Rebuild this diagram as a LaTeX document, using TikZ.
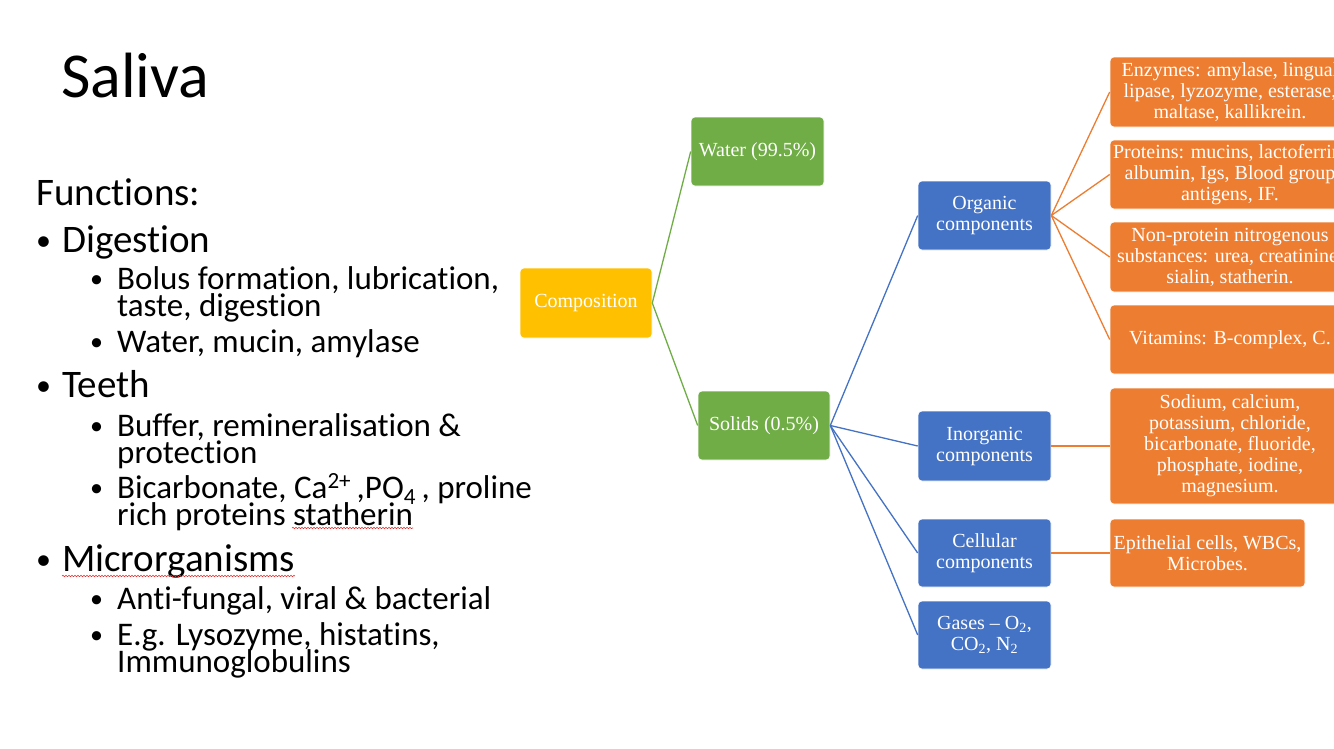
\documentclass[tikz,border=0pt]{standalone}
\usepackage{fontspec}
\setmainfont{Carlito}[Ligatures={NoCommon,NoRequired,NoContextual}]
\newfontfamily\boxfont{Liberation Serif}
\usetikzlibrary{decorations.pathmorphing}
\definecolor{cyellow}{HTML}{FFC000}
\definecolor{cgreen}{HTML}{70AD47}
\definecolor{cblue}{HTML}{4472C4}
\definecolor{corange}{HTML}{ED7D31}
\definecolor{spell}{HTML}{E03030}
\tikzset{
  txt/.style={anchor=base west, inner sep=0pt, text=black},
  big/.style={txt, font=\fontsize{39}{47}\selectfont},
  small/.style={txt, font=\fontsize{33}{40}\selectfont},
  bigdot/.style={txt, font=\fontsize{30}{36}\selectfont},
  smalldot/.style={txt, font=\fontsize{26}{31}\selectfont},
  sbox/.style={rectangle, rounded corners=4pt, draw=white, line width=0.6pt,
     text=white, align=center, inner sep=1pt,
     font=\boxfont\fontsize{20}{21}\selectfont},
  ybox/.style={sbox, fill=cyellow},
  gbox/.style={sbox, fill=cgreen},
  bbox/.style={sbox, fill=cblue},
  obox/.style={sbox, fill=corange},
  gline/.style={draw=cgreen, line width=1.3pt},
  bline/.style={draw=cblue, line width=1.3pt},
  oline/.style={draw=corange, line width=1.3pt},
  wavy/.style={draw=spell, line width=0.6pt, decorate,
     decoration={snake, amplitude=0.7pt, segment length=3pt}}
}
\begin{document}
\begin{tikzpicture}[x=1pt,y=-1pt]
\useasboundingbox (0,0) rectangle (1334,748);
\clip (0,0) rectangle (1334,748);
\fill[white] (0,0) rectangle (1334,748);

% Title
\node[txt, font=\fontsize{64}{77}\selectfont] (title) at (61,97) {Saliva};

% Left text
\node[big] (fun) at (36,205) {Functions:};
\node[bigdot] (b1) at (36,250) {•};
\node[big] (dig) at (62,252) {Digestion};
\node[smalldot] (s1b) at (90,287) {•};
\node[small] (s1) at (117,289) {Bolus formation, lubrication,};
\node[small] (s1c) at (117,316) {taste, digestion};
\node[smalldot] (s2b) at (90,350) {•};
\node[small] (s2) at (117,352) {Water, mucin, amylase};
\node[bigdot] (b2) at (36,395) {•};
\node[big] (tee) at (62,397) {Teeth};
\node[smalldot] (s3b) at (90,434) {•};
\node[small] (s3) at (117,436) {Buffer, remineralisation \&};
\node[small] (s3c) at (117,463) {protection};
\node[smalldot] (s4b) at (90,496) {•};
\node[small] (s4) at (117,498) {Bicarbonate, Ca\textsuperscript{2+}\,,PO\textsubscript{4}\,, proline};
\node[small] (s4c) at (117,525) {rich proteins statherin};
\node[bigdot] (b3) at (36,569) {•};
\node[big] (mic) at (62,571) {Microrganisms};
\node[smalldot] (s5b) at (90,607) {•};
\node[small] (s5) at (117,609) {Anti-fungal, viral \& bacterial};
\node[smalldot] (s6b) at (90,643) {•};
\node[small] (s6) at (117,645) {E.g. Lysozyme, histatins,};
\node[small] (s6c) at (117,672) {Immunoglobulins};

% spell-check underlines
\coordinate (w1a) at (292,528);
\coordinate (w1b) at (413,528);
\coordinate (w2a) at (62,576);
\coordinate (w2b) at (295,576);
\path[wavy] (w1a) -- (w1b);
\path[wavy] (w2a) -- (w2b);

% Diagram boxes
\node[ybox, minimum width=132pt, minimum height=70pt] (comp) at (586,303) {Composition};
\node[gbox, minimum width=133pt, minimum height=69pt] (water) at (757.5,151.5) {Water (99.5\%)};
\node[gbox, minimum width=132pt, minimum height=69pt] (solids) at (764,425.5) {Solids (0.5\%)};

\node[bbox, minimum width=133pt, minimum height=69pt] (org) at (984.5,215.5) {Organic\\components};
\node[bbox, minimum width=133pt, minimum height=70pt] (inorg) at (984.5,446) {Inorganic\\components};
\node[bbox, minimum width=133pt, minimum height=68pt] (cell) at (984.5,553) {Cellular\\components};
\node[bbox, minimum width=133pt, minimum height=68pt] (gas) at (984.5,635) {Gases – O\textsubscript{2},\\CO\textsubscript{2}, N\textsubscript{2}};

\node[obox, minimum width=240pt, minimum height=70pt] (enz) at (1230,92) {Enzymes: amylase, lingual\\lipase, lyzozyme, esterase,\\maltase, kallikrein.};
\node[obox, minimum width=240pt, minimum height=69pt] (prot) at (1230,174.5) {Proteins: mucins, lactoferrin,\\albumin, Igs, Blood group\\antigens, IF.};
\node[obox, minimum width=240pt, minimum height=70pt] (npn) at (1230,257) {Non-protein nitrogenous\\substances: urea, creatinine,\\sialin, statherin.};
\node[obox, minimum width=240pt, minimum height=69pt] (vit) at (1230,339.5) {Vitamins: B-complex, C.};
\node[obox, minimum width=240pt, minimum height=116pt] (sod) at (1230,446) {Sodium, calcium,\\potassium, chloride,\\bicarbonate, fluoride,\\phosphate, iodine,\\magnesium.};
\node[obox, minimum width=195pt, minimum height=68pt] (epi) at (1207.5,553) {Epithelial cells, WBCs,\\Microbes.};

% Connectors
\path[gline] (comp.east) -- (water.west);
\path[gline] (comp.east) -- (solids.west);
\path[bline] (solids.east) -- (org.west);
\path[bline] (solids.east) -- (inorg.west);
\path[bline] (solids.east) -- (cell.west);
\path[bline] (solids.east) -- (gas.west);
\path[oline] (org.east) -- (enz.west);
\path[oline] (org.east) -- (prot.west);
\path[oline] (org.east) -- (npn.west);
\path[oline] (org.east) -- (vit.west);
\path[oline] (inorg.east) -- (sod.west);
\path[oline] (cell.east) -- (epi.west);
\end{tikzpicture}
\end{document}
